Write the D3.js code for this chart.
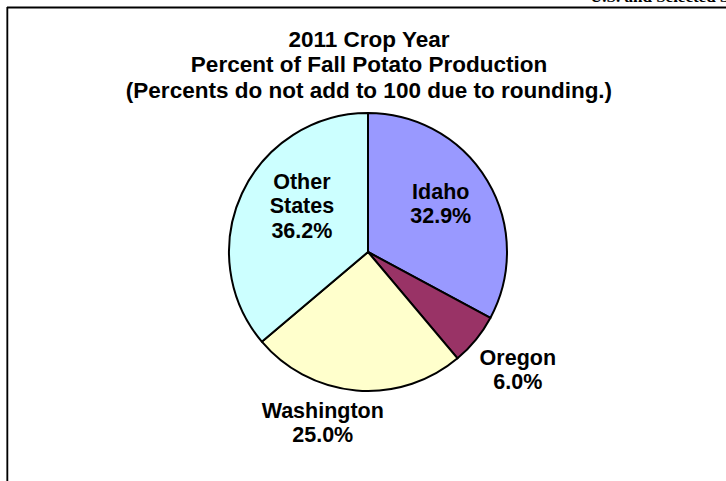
<!DOCTYPE html>
<html>
<head>
<meta charset="utf-8">
<script src="https://cdn.jsdelivr.net/npm/d3@7"></script>
<style>
html,body{margin:0;padding:0;background:#fff;}
svg{display:block;}
</style>
</head>
<body>
<svg id="chart" width="726" height="481"></svg>
<script>
const categories = ["Idaho", "Oregon", "Washington", "Other States"];
const values = [32.9, 6.0, 25.0, 36.2];
const labels = [["Idaho", "32.9%"], ["Oregon", "6.0%"], ["Washington", "25.0%"], ["Other", "States", "36.2%"]];
const colors = ["#9999FF", "#993366", "#FFFFCC", "#CCFFFF"];
const titleLines = ["2011 Crop Year", "Percent of Fall Potato Production", "(Percents do not add to 100 due to rounding.)"];

const svg = d3.select("#chart");
const W = 726, H = 481;

// clipped header text at top-right
svg.append("text").attr("x", 590).attr("y", 2)
  .attr("font-family", "Liberation Serif, Times New Roman, serif")
  .attr("font-weight", "bold").attr("font-size", 17).attr("fill", "#000")
  .text("U.S. and Selected States");

// frame
svg.append("line").attr("x1", 7).attr("y1", 7.5).attr("x2", W).attr("y2", 7.5)
  .attr("stroke", "#000").attr("stroke-width", 2);
svg.append("line").attr("x1", 6.5).attr("y1", 7).attr("x2", 6.5).attr("y2", H)
  .attr("stroke", "#888").attr("stroke-width", 1);
svg.append("line").attr("x1", 7.5).attr("y1", 7).attr("x2", 7.5).attr("y2", H)
  .attr("stroke", "#000").attr("stroke-width", 1.5);

// title
const title = svg.append("text")
  .attr("font-family", "Liberation Sans, Arial, sans-serif")
  .attr("font-weight", "bold").attr("font-size", 22.5)
  .attr("text-anchor", "middle").attr("fill", "#000");
titleLines.forEach((t, i) => {
  title.append("tspan").attr("x", 369).attr("y", 46.5 + i * 25.5).text(t);
});

const cx = 368, cy = 252, r = 139;
const pie = d3.pie().sort(null).value(d => d)
  .startAngle(0).endAngle(2 * Math.PI * d3.sum(values) / 100);
const arcs = pie(values);
const arc = d3.arc().innerRadius(0).outerRadius(r);

const g = svg.append("g").attr("transform", `translate(${cx},${cy})`);
g.selectAll("path").data(arcs).enter().append("path")
  .attr("d", arc)
  .attr("fill", (d, i) => colors[i])
  .attr("stroke", "#000").attr("stroke-width", 2).attr("stroke-linejoin", "round");

// label placement: radius factor and angular nudge (degrees) per slice
const labelRadius = [0.63, 1.37, 1.27, 0.58];
const labelNudge = [-3, -1, 10, 10];
const lineH = 24.5;
arcs.forEach((d, i) => {
  const a = (d.startAngle + d.endAngle) / 2 + labelNudge[i] * Math.PI / 180;
  const lr = r * labelRadius[i];
  const lx = Math.sin(a) * lr, ly = -Math.cos(a) * lr;
  const lines = labels[i];
  const t = g.append("text")
    .attr("font-family", "Liberation Sans, Arial, sans-serif")
    .attr("font-weight", "bold").attr("font-size", 21.5)
    .attr("text-anchor", "middle").attr("fill", "#000");
  const y0 = ly - (lines.length - 1) * lineH / 2 + 7.5;
  lines.forEach((s, j) => {
    t.append("tspan").attr("x", lx).attr("y", y0 + j * lineH).text(s);
  });
});
</script>
</body>
</html>
